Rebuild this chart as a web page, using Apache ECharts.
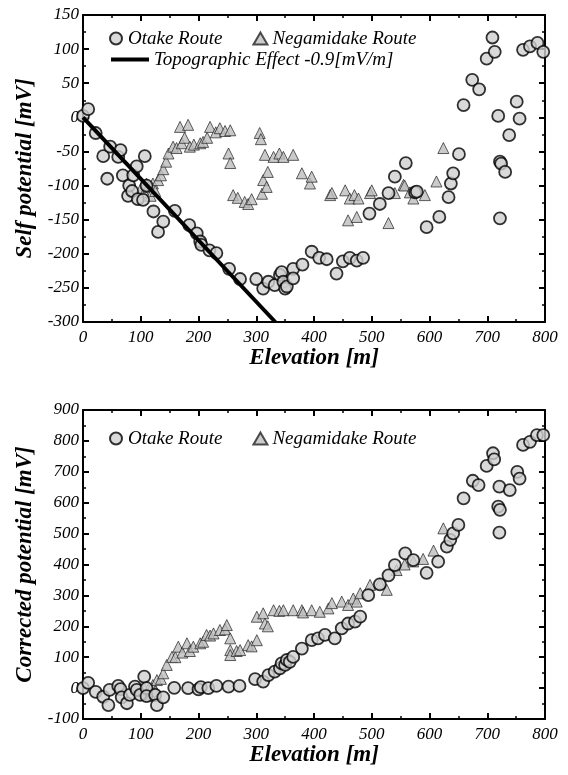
<!DOCTYPE html>
<html>
<head>
<meta charset="utf-8">
<script src="https://cdn.jsdelivr.net/npm/echarts@6/dist/echarts.min.js"></script>
<style>
html,body{margin:0;padding:0;background:#fff;}
#chart{width:568px;height:775px;}
</style>
</head>
<body>
<div id="chart"></div>
<script>
// self potential [elevation m, mV]
var otakeSP = [
  [0,2],[9,12],[22,-23],[35,-57],[42,-90],[47,-43],[61,-58],[65,-48],[69,-85],[78,-115],
  [80,-100],[85,-108],[87,-85],[93,-72],[95,-120],[104,-121],[107,-57],[110,-100],[122,-138],[130,-168],
  [139,-153],[159,-137],[184,-158],[197,-170],[203,-182],[205,-187],[219,-195],[231,-199],[253,-222],[272,-237],
  [300,-237],[312,-251],[321,-241],[332,-246],[341,-231],[344,-227],[347,-241],[350,-251],[353,-248],[364,-222],
  [364,-236],[380,-216],[396,-197],[409,-206],[422,-208],[439,-229],[450,-211],[462,-206],[474,-210],[485,-206],
  [496,-141],[514,-127],[529,-111],[540,-87],[559,-67],[575,-110],[578,-109],[595,-161],[617,-146],[633,-117],
  [637,-97],[641,-82],[651,-54],[659,18],[674,55],[686,41],[699,86],[709,117],[713,96],[719,2],
  [722,-65],[724,-68],[731,-80],[722,-148],[738,-26],[751,23],[756,-2],[762,99],[774,104],[787,109],[797,96]
];
var negaSP = [
  [100,-105],[106,-110],[110,-97],[113,-102],[117,-115],[121,-97],[125,-108],[130,-92],[135,-85],[139,-76],
  [144,-65],[148,-53],[156,-43],[162,-45],[168,-14],[171,-38],[176,-30],[182,-11],[185,-43],[192,-40],
  [203,-38],[208,-36],[215,-30],[220,-14],[230,-22],[237,-16],[246,-20],[255,-19],[252,-53],[255,-67],
  [260,-114],[268,-118],[280,-124],[286,-127],[292,-120],[306,-23],[308,-32],[310,-112],[312,-92],[315,-55],
  [318,-102],[320,-80],[330,-58],[340,-53],[347,-58],[364,-55],[379,-82],[393,-97],[396,-87],[428,-114],
  [431,-111],[454,-107],[459,-151],[462,-119],[470,-114],[474,-146],[477,-119],[497,-111],[500,-107],[529,-155],
  [540,-111],[555,-99],[557,-100],[566,-110],[572,-119],[592,-114],[612,-94],[624,-45]
];
var topoLine = [[0,0],[333,-300]];

// corrected potential [elevation m, mV]
var otakeCP = [
  [0,0],[9,17],[22,-12],[35,-28],[44,-55],[46,-6],[61,7],[65,-3],[67,-30],[76,-49],
  [81,-22],[90,5],[93,-6],[99,-22],[106,37],[110,0],[110,-26],[125,-22],[128,-55],[139,-30],
  [158,1],[182,0],[200,-4],[204,3],[217,0],[231,7],[252,5],[271,7],[298,29],[312,21],
  [321,42],[332,53],[341,64],[344,80],[350,75],[353,91],[358,85],[364,101],[379,128],[396,155],
  [407,161],[419,172],[436,161],[448,193],[459,209],[471,215],[480,231],[494,301],[514,336],[529,365],
  [540,398],[558,436],[572,414],[595,373],[615,409],[630,458],[636,480],[641,501],[650,528],[659,614],
  [675,671],[685,657],[699,719],[710,760],[712,740],[719,587],[721,652],[721,503],[722,577],[739,641],
  [752,700],[756,678],[762,787],[774,797],[786,819],[797,819]
];
var negaCP = [
  [100,-10],[106,0],[110,-20],[113,-5],[117,-25],[121,10],[125,-10],[128,26],[135,30],[139,48],
  [145,75],[154,101],[160,100],[165,134],[172,115],[180,145],[185,120],[191,134],[203,145],[208,150],
  [214,172],[220,170],[226,177],[237,188],[246,190],[249,204],[255,161],[255,123],[255,107],[266,120],
  [272,123],[286,139],[292,135],[301,155],[301,231],[312,242],[315,209],[320,200],[330,252],[340,250],
  [347,252],[364,252],[379,252],[381,245],[396,252],[410,247],[425,258],[431,275],[448,280],[459,269],
  [468,290],[474,280],[480,307],[497,334],[514,339],[526,318],[543,382],[557,400],[572,410],[589,418],
  [607,445],[624,517]
];

var serif = 'Liberation Serif';
var lblStyle = {fontFamily: serif, fontStyle: 'italic', fontSize: 17, color: '#000'};
var nameStyle = {fontFamily: serif, fontStyle: 'italic', fontWeight: 'bold', fontSize: 23, color: '#000'};
var legText = {fontFamily: serif, fontStyle: 'italic', fontSize: 19, color: '#000'};

function xAx(grid, pos, showLabel){
  return {
    type: 'value', gridIndex: grid, position: pos, min: 0, max: 800, interval: 100,
    name: showLabel ? 'Elevation [m]' : '', nameLocation: 'middle', nameGap: 24, nameTextStyle: nameStyle,
    axisLine: {show: true, onZero: false, lineStyle: {color: '#000', width: 2}},
    axisTick: {show: true, inside: true, length: 6, lineStyle: {color: '#000', width: 2}},
    minorTick: {show: true, splitNumber: 2, length: 3, lineStyle: {color: '#000', width: 1.5}},
    axisLabel: {show: showLabel, margin: 7, ...lblStyle},
    splitLine: {show: false}
  };
}
function yAx(grid, pos, min, max, step, name){
  return {
    type: 'value', gridIndex: grid, position: pos, min: min, max: max, interval: step,
    name: name, nameLocation: 'middle', nameGap: 43, nameTextStyle: nameStyle,
    axisLine: {show: true, onZero: false, lineStyle: {color: '#000', width: 2}},
    axisTick: {show: true, inside: true, length: 6, lineStyle: {color: '#000', width: 2}},
    minorTick: {show: true, splitNumber: 2, length: 3, lineStyle: {color: '#000', width: 1.5}},
    axisLabel: {show: !!name, margin: 4, ...lblStyle},
    splitLine: {show: false}
  };
}

var circleStyle = {color: '#cfcfcf', borderColor: '#000', borderWidth: 1.8};
var triStyle = {color: '#bdbdbd', borderColor: '#222', borderWidth: 0.9};

var option = {
  backgroundColor: '#fff',
  animation: false,
  grid: [
    {left: 83, right: 23, top: 15, height: 307},
    {left: 83, right: 23, top: 410, height: 309}
  ],
  xAxis: [xAx(0, 'bottom', true), xAx(0, 'top', false), xAx(1, 'bottom', true), xAx(1, 'top', false)],
  yAxis: [
    yAx(0, 'left', -300, 150, 50, 'Self potential [mV]'), yAx(0, 'right', -300, 150, 50, ''),
    yAx(1, 'left', -100, 900, 100, 'Corrected potential [mV]'), yAx(1, 'right', -100, 900, 100, '')
  ],
  legend: [
    {data: ['Otake Route', 'Negamidake Route'], left: 104, top: 24, itemGap: 30, itemWidth: 14, itemHeight: 12,
     textStyle: legText},
    {data: [{name: 'Topographic Effect -0.9[mV/m]', icon: 'rect'}], left: 106, top: 45, itemWidth: 38, itemHeight: 4,
     textStyle: legText},
    {data: ['Otake Route', 'Negamidake Route'], left: 104, top: 424, itemGap: 30, itemWidth: 14, itemHeight: 12,
     textStyle: legText}
  ],
  series: [
    {name: 'Negamidake Route', type: 'scatter', xAxisIndex: 0, yAxisIndex: 0, data: negaSP,
     symbol: 'triangle', symbolSize: 11, itemStyle: triStyle},
    {name: 'Otake Route', type: 'scatter', xAxisIndex: 0, yAxisIndex: 0, data: otakeSP,
     symbol: 'circle', symbolSize: 12, itemStyle: circleStyle},
    {name: 'Topographic Effect -0.9[mV/m]', type: 'line', xAxisIndex: 0, yAxisIndex: 0, data: topoLine,
     symbol: 'none', lineStyle: {color: '#000', width: 4}, itemStyle: {color: '#000'}, clip: true},
    {name: 'Negamidake Route', type: 'scatter', xAxisIndex: 2, yAxisIndex: 2, data: negaCP,
     symbol: 'triangle', symbolSize: 11, itemStyle: triStyle},
    {name: 'Otake Route', type: 'scatter', xAxisIndex: 2, yAxisIndex: 2, data: otakeCP,
     symbol: 'circle', symbolSize: 12, itemStyle: circleStyle}
  ]
};

var myChart = echarts.init(document.getElementById('chart'));
myChart.setOption(option);
</script>
</body>
</html>
